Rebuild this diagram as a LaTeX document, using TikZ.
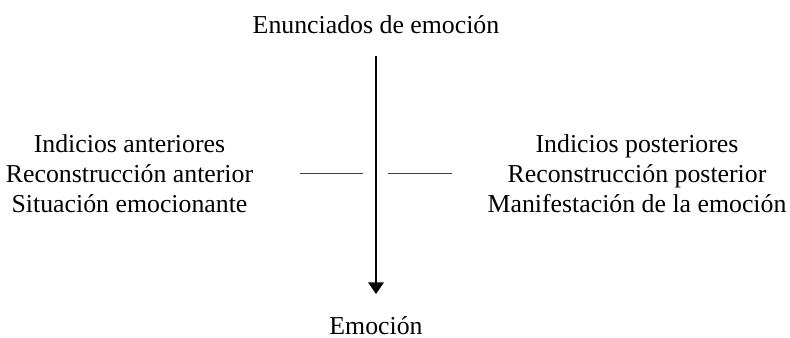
\documentclass[tikz,border=0pt]{standalone}
\usepackage{fontspec}
\setmainfont{Liberation Serif}
\usetikzlibrary{arrows.meta}

\begin{document}
\begin{tikzpicture}[x=0.465pt,y=-0.465pt,
        lbl/.style={font=\fontsize{12}{14}\selectfont, align=center}]
        \useasboundingbox (0,0) rectangle (790,337);
        % Labels top and bottom
        \node[lbl, anchor=base] (enunciados) at (376,33) {Enunciados de emoción};
        \node[lbl, anchor=base] (emocion) at (376,334) {Emoción};
        % Labels left and right
        \node[lbl] (anteriores) at (129.5,173.5) {Indicios anteriores\\Reconstrucción anterior\\Situación emocionante};
        \node[lbl] (posteriores) at (637,173.5) {Indicios posteriores\\Reconstrucción posterior\\Manifestación de la emoción};
        % Vertical arrow
        \draw[line width=0.7pt, -{Triangle[width=7.2pt,length=5.4pt]}, shorten <=7.2pt, shorten >=6.7pt] (enunciados) -- (emocion);
        % Short lines beside the arrow
        \coordinate (l1) at (300,173);
        \coordinate (l2) at (363,173);
        \coordinate (r1) at (388,173);
        \coordinate (r2) at (452,173);
        \draw[line width=0.45pt, black!75] (l1) -- (l2);
        \draw[line width=0.45pt, black!75] (r1) -- (r2);
    \end{tikzpicture}
\end{document}
